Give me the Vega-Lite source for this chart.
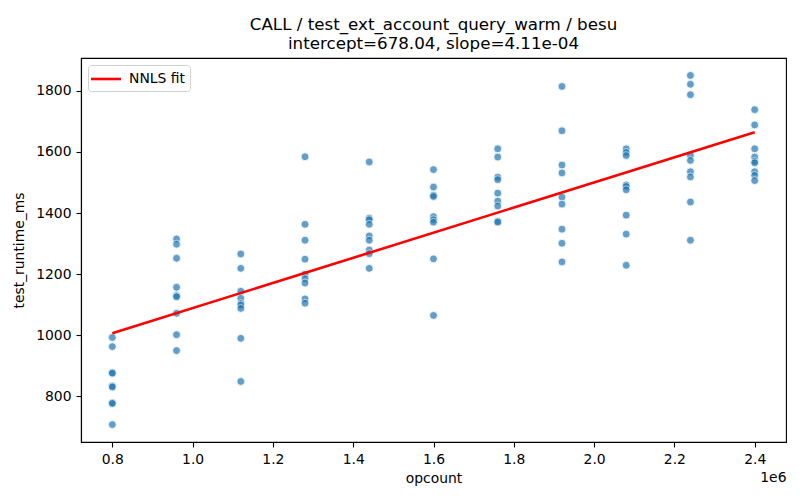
{
  "$schema": "https://vega.github.io/schema/vega-lite/v6.json",
  "description": "NNLS fit of runtime against opcount",
  "autosize": "none",
  "padding": {"left": 81, "top": 58, "right": 14, "bottom": 58},
  "width": 705,
  "height": 384,
  "title": {
    "text": ["CALL / test_ext_account_query_warm / besu", "intercept=678.04, slope=4.11e-04"],
    "anchor": "middle",
    "font": "DejaVu Sans",
    "fontSize": 16.7,
    "fontWeight": "normal",
    "color": "black",
    "lineHeight": 19.5,
    "offset": 5
  },
  "datasets": {
    "runs": [
      {"opcount": 800000, "test_runtime_ms": 993},
      {"opcount": 800000, "test_runtime_ms": 963},
      {"opcount": 800000, "test_runtime_ms": 878},
      {"opcount": 800000, "test_runtime_ms": 876},
      {"opcount": 800000, "test_runtime_ms": 834},
      {"opcount": 800000, "test_runtime_ms": 831},
      {"opcount": 800000, "test_runtime_ms": 779},
      {"opcount": 800000, "test_runtime_ms": 777},
      {"opcount": 800000, "test_runtime_ms": 708},
      {"opcount": 960000, "test_runtime_ms": 1315},
      {"opcount": 960000, "test_runtime_ms": 1298},
      {"opcount": 960000, "test_runtime_ms": 1252},
      {"opcount": 960000, "test_runtime_ms": 1157},
      {"opcount": 960000, "test_runtime_ms": 1130},
      {"opcount": 960000, "test_runtime_ms": 1126},
      {"opcount": 960000, "test_runtime_ms": 1072},
      {"opcount": 960000, "test_runtime_ms": 1002},
      {"opcount": 960000, "test_runtime_ms": 950},
      {"opcount": 1120000, "test_runtime_ms": 1266},
      {"opcount": 1120000, "test_runtime_ms": 1219},
      {"opcount": 1120000, "test_runtime_ms": 1144},
      {"opcount": 1120000, "test_runtime_ms": 1121},
      {"opcount": 1120000, "test_runtime_ms": 1104},
      {"opcount": 1120000, "test_runtime_ms": 1099},
      {"opcount": 1120000, "test_runtime_ms": 1088},
      {"opcount": 1120000, "test_runtime_ms": 990},
      {"opcount": 1120000, "test_runtime_ms": 849},
      {"opcount": 1280000, "test_runtime_ms": 1584},
      {"opcount": 1280000, "test_runtime_ms": 1363},
      {"opcount": 1280000, "test_runtime_ms": 1311},
      {"opcount": 1280000, "test_runtime_ms": 1249},
      {"opcount": 1280000, "test_runtime_ms": 1200},
      {"opcount": 1280000, "test_runtime_ms": 1185},
      {"opcount": 1280000, "test_runtime_ms": 1171},
      {"opcount": 1280000, "test_runtime_ms": 1119},
      {"opcount": 1280000, "test_runtime_ms": 1105},
      {"opcount": 1440000, "test_runtime_ms": 1567},
      {"opcount": 1440000, "test_runtime_ms": 1383},
      {"opcount": 1440000, "test_runtime_ms": 1378},
      {"opcount": 1440000, "test_runtime_ms": 1363},
      {"opcount": 1440000, "test_runtime_ms": 1325},
      {"opcount": 1440000, "test_runtime_ms": 1311},
      {"opcount": 1440000, "test_runtime_ms": 1279},
      {"opcount": 1440000, "test_runtime_ms": 1267},
      {"opcount": 1440000, "test_runtime_ms": 1219},
      {"opcount": 1600000, "test_runtime_ms": 1542},
      {"opcount": 1600000, "test_runtime_ms": 1485},
      {"opcount": 1600000, "test_runtime_ms": 1458},
      {"opcount": 1600000, "test_runtime_ms": 1454},
      {"opcount": 1600000, "test_runtime_ms": 1388},
      {"opcount": 1600000, "test_runtime_ms": 1378},
      {"opcount": 1600000, "test_runtime_ms": 1370},
      {"opcount": 1600000, "test_runtime_ms": 1250},
      {"opcount": 1600000, "test_runtime_ms": 1065},
      {"opcount": 1760000, "test_runtime_ms": 1610},
      {"opcount": 1760000, "test_runtime_ms": 1583},
      {"opcount": 1760000, "test_runtime_ms": 1517},
      {"opcount": 1760000, "test_runtime_ms": 1509},
      {"opcount": 1760000, "test_runtime_ms": 1465},
      {"opcount": 1760000, "test_runtime_ms": 1439},
      {"opcount": 1760000, "test_runtime_ms": 1423},
      {"opcount": 1760000, "test_runtime_ms": 1373},
      {"opcount": 1760000, "test_runtime_ms": 1370},
      {"opcount": 1920000, "test_runtime_ms": 1814},
      {"opcount": 1920000, "test_runtime_ms": 1669},
      {"opcount": 1920000, "test_runtime_ms": 1557},
      {"opcount": 1920000, "test_runtime_ms": 1531},
      {"opcount": 1920000, "test_runtime_ms": 1452},
      {"opcount": 1920000, "test_runtime_ms": 1429},
      {"opcount": 1920000, "test_runtime_ms": 1347},
      {"opcount": 1920000, "test_runtime_ms": 1301},
      {"opcount": 1920000, "test_runtime_ms": 1240},
      {"opcount": 2080000, "test_runtime_ms": 1610},
      {"opcount": 2080000, "test_runtime_ms": 1598},
      {"opcount": 2080000, "test_runtime_ms": 1588},
      {"opcount": 2080000, "test_runtime_ms": 1492},
      {"opcount": 2080000, "test_runtime_ms": 1487},
      {"opcount": 2080000, "test_runtime_ms": 1476},
      {"opcount": 2080000, "test_runtime_ms": 1393},
      {"opcount": 2080000, "test_runtime_ms": 1331},
      {"opcount": 2080000, "test_runtime_ms": 1229},
      {"opcount": 2240000, "test_runtime_ms": 1850},
      {"opcount": 2240000, "test_runtime_ms": 1821},
      {"opcount": 2240000, "test_runtime_ms": 1787},
      {"opcount": 2240000, "test_runtime_ms": 1588},
      {"opcount": 2240000, "test_runtime_ms": 1572},
      {"opcount": 2240000, "test_runtime_ms": 1535},
      {"opcount": 2240000, "test_runtime_ms": 1518},
      {"opcount": 2240000, "test_runtime_ms": 1436},
      {"opcount": 2240000, "test_runtime_ms": 1311},
      {"opcount": 2400000, "test_runtime_ms": 1738},
      {"opcount": 2400000, "test_runtime_ms": 1688},
      {"opcount": 2400000, "test_runtime_ms": 1610},
      {"opcount": 2400000, "test_runtime_ms": 1583},
      {"opcount": 2400000, "test_runtime_ms": 1569},
      {"opcount": 2400000, "test_runtime_ms": 1564},
      {"opcount": 2400000, "test_runtime_ms": 1535},
      {"opcount": 2400000, "test_runtime_ms": 1523},
      {"opcount": 2400000, "test_runtime_ms": 1506}
    ],
    "fit": [
      {"opcount": 800000, "test_runtime_ms": 1006.8, "series": "NNLS fit"},
      {"opcount": 2400000, "test_runtime_ms": 1664.4, "series": "NNLS fit"}
    ]
  },
  "layer": [
    {
      "data": {"name": "runs"},
      "mark": {"type": "point", "filled": true, "color": "#1f77b4", "opacity": 0.7, "stroke": "white", "strokeWidth": 0.8, "size": 62},
      "encoding": {
        "x": {
          "field": "opcount",
          "type": "quantitative",
          "scale": {"domain": [722000, 2478000], "nice": false, "zero": false},
          "axis": {
            "orient": "bottom",
            "title": "opcount",
            "values": [800000, 1000000, 1200000, 1400000, 1600000, 1800000, 2000000, 2200000, 2400000],
            "labelExpr": "format(datum.value / 1000000, '.1f')",
            "titlePadding": 6
          }
        },
        "y": {
          "field": "test_runtime_ms",
          "type": "quantitative",
          "scale": {"domain": [651, 1907], "nice": false, "zero": false},
          "axis": {
            "title": "test_runtime_ms",
            "values": [800, 1000, 1200, 1400, 1600, 1800],
            "format": "d",
            "titlePadding": 9
          }
        }
      }
    },
    {
      "data": {"name": "fit"},
      "mark": {"type": "line", "strokeWidth": 2.6},
      "encoding": {
        "x": {
          "field": "opcount",
          "type": "quantitative",
          "axis": {
            "orient": "bottom",
            "title": "1e6",
            "labels": false,
            "ticks": false,
            "domain": false,
            "titleAnchor": "end",
            "titleAlign": "right",
            "titleX": 705,
            "titleY": 39,
            "titleBaseline": "alphabetic"
          }
        },
        "y": {"field": "test_runtime_ms", "type": "quantitative"},
        "color": {
          "field": "series",
          "type": "nominal",
          "scale": {"domain": ["NNLS fit"], "range": ["red"]},
          "legend": {
            "title": null,
            "orient": "top-left",
            "offset": 7,
            "padding": 5,
            "fillColor": "white",
            "strokeColor": "#d0d0d0",
            "cornerRadius": 3,
            "symbolType": "M-2,0H2",
            "symbolSize": 225,
            "symbolOffset": 4,
            "symbolStrokeWidth": 2.6,
            "labelFont": "DejaVu Sans",
            "labelFontSize": 13.9,
            "labelColor": "black",
            "labelOffset": 14
          }
        }
      }
    }
  ],
  "resolve": {"axis": {"x": "independent"}},
  "config": {
    "font": "DejaVu Sans",
    "view": {"stroke": "black", "strokeWidth": 1.1},
    "axis": {
      "grid": false,
      "domainColor": "black",
      "domainWidth": 1.1,
      "tickColor": "black",
      "tickWidth": 1.1,
      "tickSize": 5,
      "labelPadding": 5,
      "labelFont": "DejaVu Sans",
      "labelFontSize": 13.9,
      "labelColor": "black",
      "titleFont": "DejaVu Sans",
      "titleFontSize": 13.9,
      "titleFontWeight": "normal",
      "titleColor": "black"
    }
  }
}
